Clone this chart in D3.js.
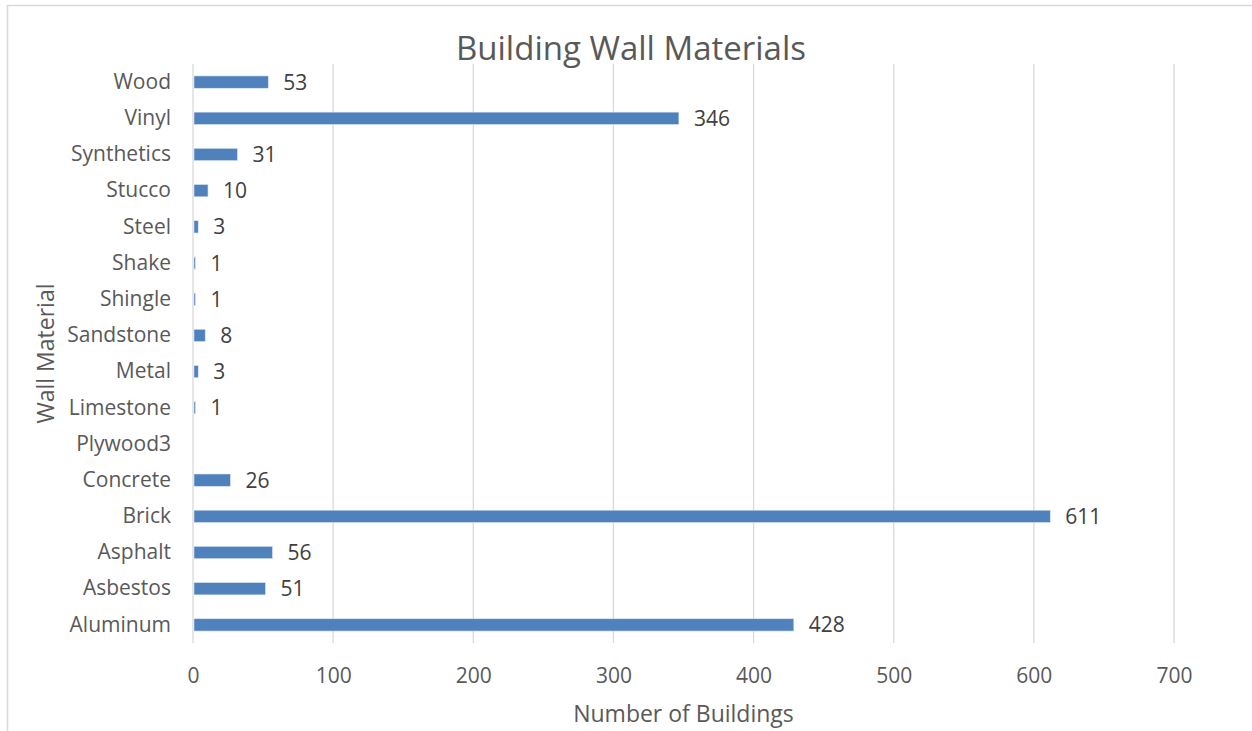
<!DOCTYPE html>
<html>
<head>
<meta charset="utf-8">
<script src="https://cdn.jsdelivr.net/npm/d3@7"></script>
<style>
  body { margin: 0; background: #fff; }
  svg { font-family: "Open Sans", sans-serif; }
</style>
</head>
<body>
<svg id="chart" width="1252" height="731"></svg>
<script>
// categories listed top to bottom as they appear
const materials = ['Wood', 'Vinyl', 'Synthetics', 'Stucco', 'Steel', 'Shake', 'Shingle', 'Sandstone',
  'Metal', 'Limestone', 'Plywood3', 'Concrete', 'Brick', 'Asphalt', 'Asbestos', 'Aluminum'];
const buildingCounts = [53, 346, 31, 10, 3, 1, 1, 8, 3, 1, null, 26, 611, 56, 51, 428];
const xTicks = [0, 100, 200, 300, 400, 500, 600, 700];

const svg = d3.select('#chart');
const margin = { left: 193, right: 78, top: 64, bottom: 88 };
const W = 1252, H = 731;
const labelFont = 21;

// chart border (cropped at right and bottom)
svg.append('rect')
    .attr('x', 7.5).attr('y', 5.5)
    .attr('width', 1260).attr('height', 760)
    .attr('fill', 'none').attr('stroke', '#d9d9d9').attr('stroke-width', 1.5);

const x = d3.scaleLinear().domain([0, 700]).range([margin.left, W - margin.right]);
const y = d3.scaleBand().domain(materials).range([margin.top, H - margin.bottom]).paddingInner(0.66).paddingOuter(0.33);

// vertical gridlines
svg.append('g')
    .selectAll('line')
    .data(xTicks)
    .join('line')
    .attr('x1', d => x(d)).attr('x2', d => x(d))
    .attr('y1', margin.top).attr('y2', H - margin.bottom)
    .attr('stroke', '#d9d9d9').attr('stroke-width', 1.3);

// x tick labels
const xAxis = svg.append('g')
    .attr('transform', `translate(0,${H - margin.bottom})`)
    .call(d3.axisBottom(x).tickValues(xTicks).tickSize(0).tickPadding(25));
xAxis.select('.domain').remove();
xAxis.selectAll('text').attr('font-size', labelFont).attr('fill', '#595959').attr('font-family', '"Open Sans", sans-serif');

// category labels
const yAxis = svg.append('g')
    .attr('transform', `translate(${margin.left},0)`)
    .call(d3.axisLeft(y).tickSize(0).tickPadding(22));
yAxis.select('.domain').remove();
yAxis.selectAll('text').attr('font-size', labelFont).attr('fill', '#595959').attr('font-family', '"Open Sans", sans-serif');

const rows = materials.map((m, i) => ({ name: m, value: buildingCounts[i] })).filter(d => d.value != null);

// bars
svg.append('g')
    .selectAll('rect')
    .data(rows)
    .join('rect')
    .attr('x', x(0) + 1)
    .attr('y', d => y(d.name))
    .attr('width', d => Math.max(x(d.value) - x(0), 1.2))
    .attr('height', y.bandwidth())
    .attr('fill', '#4f81bd')
    .attr('stroke', '#dbe5f1').attr('stroke-width', 0.6);

// value labels
svg.append('g')
    .selectAll('text')
    .data(rows)
    .join('text')
    .attr('x', d => x(d.value) + 16)
    .attr('y', d => y(d.name) + y.bandwidth() / 2)
    .attr('dy', '0.36em')
    .attr('font-size', labelFont)
    .attr('fill', '#404040')
    .text(d => d.value);

// title
svg.append('text')
    .attr('x', 631).attr('y', 48)
    .attr('dy', '0.36em')
    .attr('text-anchor', 'middle')
    .attr('font-size', 33)
    .attr('fill', '#595959')
    .text('Building Wall Materials');

// axis titles
svg.append('text')
    .attr('x', (x(0) + x(700)) / 2).attr('y', 714)
    .attr('dy', '0.36em')
    .attr('text-anchor', 'middle')
    .attr('font-size', 23)
    .attr('fill', '#595959')
    .text('Number of Buildings');

svg.append('text')
    .attr('transform', `translate(46,${(margin.top + H - margin.bottom) / 2}) rotate(-90)`)
    .attr('dy', '0.36em')
    .attr('text-anchor', 'middle')
    .attr('font-size', 23)
    .attr('fill', '#595959')
    .text('Wall Material');
</script>
</body>
</html>
